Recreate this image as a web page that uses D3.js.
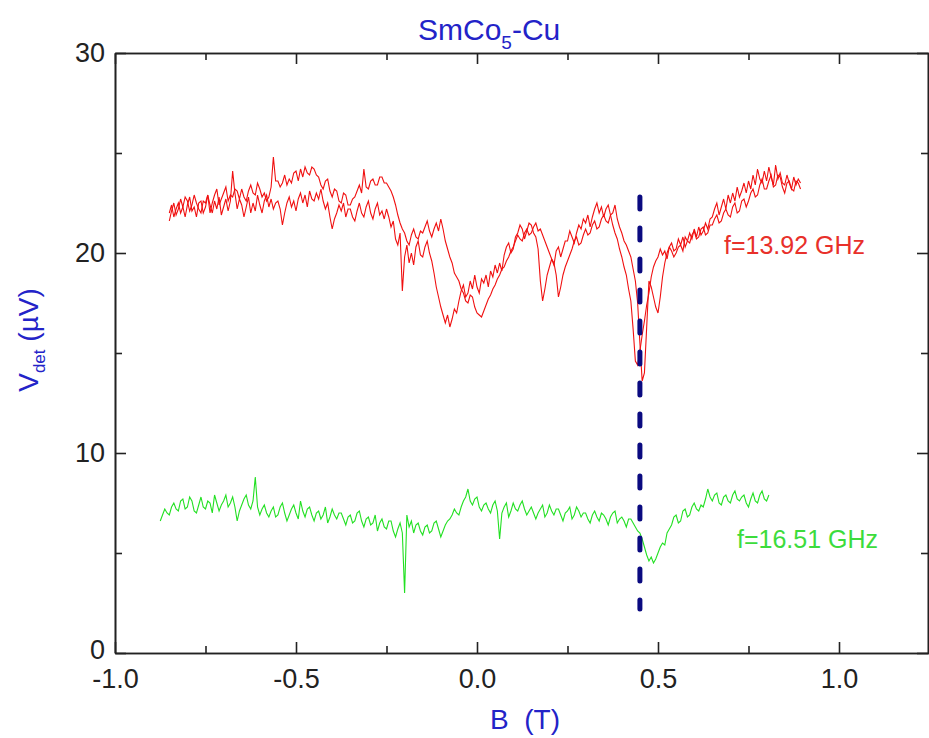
<!DOCTYPE html>
<html>
<head>
<meta charset="utf-8">
<script src="https://cdn.jsdelivr.net/npm/d3@7"></script>
<style>
  body { margin: 0; background: #fff; }
  svg text { font-family: "Liberation Sans", Arial, sans-serif; }
</style>
</head>
<body>
<svg width="929" height="738"></svg>
<script>
// field sweep sampling (T)
var bStep = 0.00625;
var redStartB = -0.85;
var greenStartB = -0.875;

// f = 13.92 GHz, two sweeps (uV), one row = 0.1 T
var redSweepA = [
  21.6, 22.1, 22.5, 21.9, 22.2, 22.7, 22.3, 21.8, 22.4, 22.8, 22.1, 22.3, 21.8, 22.5, 22.6, 22.0,
  22.3, 22.9, 22.4, 22.0, 22.6, 22.2, 22.8, 21.9, 22.3, 22.7, 22.1, 22.6, 24.1, 23.0, 22.2, 22.7,
  22.4, 21.8, 22.3, 22.8, 22.0, 22.5, 22.1, 22.9, 22.4, 22.0, 22.6, 22.9, 22.3, 22.7, 22.2, 22.5,
  22.6, 22.2, 21.4, 22.0, 22.5, 22.8, 22.3, 22.6, 22.1, 22.7, 23.0, 22.5, 22.9, 22.3, 23.1, 22.7,
  22.6, 23.0, 22.7, 23.2, 22.6, 22.2, 22.5, 21.8, 21.2, 21.7, 22.0, 22.4, 22.1, 22.5, 21.8, 22.2,
  22.2, 21.8, 21.6, 22.1, 22.5, 22.0, 21.8, 22.3, 22.6, 22.0, 21.7, 22.2, 22.5, 21.9, 22.1, 21.7,
  22.2, 21.8, 21.3, 21.6, 20.7, 20.4, 21.0, 18.1, 19.8, 20.4, 19.5, 20.0, 19.4, 20.3, 20.6, 19.9,
  19.8, 20.3, 20.6, 20.0, 19.6, 19.0, 18.3, 17.8, 17.3, 16.9, 16.5, 16.9, 16.3, 16.7, 17.2, 17.0,
  17.6, 18.1, 18.4, 17.8, 18.0, 18.6, 18.2, 18.9, 18.3, 18.0, 18.7, 18.5, 18.9, 18.3, 19.1, 18.8,
  19.4, 19.0, 19.5, 19.1, 19.9, 20.3, 20.5, 20.0, 20.2, 20.8, 21.0, 21.4, 21.2, 20.7, 21.1, 21.5,
  21.4, 21.0, 20.8, 20.2, 18.6, 17.6, 18.2, 18.9, 19.3, 19.7, 19.4, 20.1, 20.3, 19.8, 20.2, 20.6,
  20.6, 21.1, 20.8, 20.5, 21.0, 21.4, 21.2, 21.7, 21.5, 21.9, 21.3, 21.8, 22.2, 22.5, 22.0, 22.3,
  21.8, 22.2, 22.4, 21.9, 21.4, 21.0, 20.7, 20.2, 19.8, 19.3, 18.9, 18.2, 17.6, 16.2, 14.6, 14.4,
  15.1, 15.9, 16.6, 17.4, 18.0, 18.8, 19.3, 19.6, 19.8, 20.2, 19.9, 20.1, 19.7, 20.3, 20.5, 20.1,
  20.2, 20.7, 20.4, 20.8, 20.3, 20.6, 21.0, 20.7, 21.2, 20.8, 21.3, 20.9, 21.1, 21.5, 21.2, 21.7,
  21.8, 22.2, 22.5, 21.9, 22.3, 22.7, 22.2, 22.9, 22.5, 23.0, 22.6, 23.3, 22.8, 23.1, 23.5, 23.0,
  23.6, 23.2, 23.9, 23.4, 24.2, 23.7, 23.5, 24.1, 23.6, 24.3, 23.8, 23.4, 24.4, 23.7, 24.0, 23.5,
  23.4, 23.9, 23.5, 23.2, 23.8, 23.4, 23.7, 23.5
];
var redSweepB = [
  22.0, 22.4, 21.8, 22.2, 22.5, 22.0, 22.3, 22.8, 22.6, 22.1, 22.4, 22.9, 22.5, 22.2, 22.0, 22.6,
  22.5, 22.9, 22.0, 22.5, 22.9, 23.2, 22.4, 22.7, 23.0, 23.3, 22.6, 22.9, 22.8, 23.2, 23.1, 22.7,
  23.2, 22.8, 22.6, 23.1, 23.4, 23.0, 22.9, 23.5, 23.2, 22.8, 23.0, 22.6, 22.8, 23.3, 24.8, 23.6,
  23.6, 23.3, 23.5, 23.9, 23.4, 23.7, 23.5, 24.0, 24.1, 23.6, 24.2, 23.8, 24.3, 24.0, 23.9, 24.3,
  24.2, 23.9, 23.8, 23.4, 23.2, 23.6, 23.7, 23.1, 22.8, 23.2, 23.1, 22.6, 22.5, 23.0, 22.9, 22.4,
  22.4, 22.7, 22.8, 23.1, 23.4, 23.0, 24.2, 23.3, 23.2, 23.6, 23.7, 23.4, 23.4, 23.8, 23.8, 23.5,
  23.5, 23.3, 23.1, 22.8, 22.4, 21.9, 21.5, 21.2, 21.0, 20.6, 20.4, 20.9, 21.2, 20.8, 20.7, 21.1,
  21.0, 21.3, 21.6, 21.1, 20.8, 21.2, 21.5, 21.1, 21.7, 21.2, 20.6, 20.2, 19.8, 19.5, 19.0, 18.8,
  18.6, 18.2, 18.0, 17.6, 17.5, 17.9, 17.8, 17.3, 17.0, 16.9, 16.8, 17.1, 17.4, 17.7, 17.9, 18.2,
  18.4, 18.7, 18.9, 19.2, 19.3, 19.6, 19.8, 20.1, 20.3, 20.6, 20.9, 20.7, 20.6, 21.0, 21.2, 20.9,
  21.0, 21.3, 21.5, 21.1, 21.2, 20.9, 20.6, 20.3, 20.0, 19.7, 19.5, 18.9, 17.8, 18.3, 18.9, 19.3,
  19.6, 19.9, 20.2, 20.6, 20.8, 20.4, 20.5, 20.9, 21.2, 20.9, 21.0, 21.4, 21.6, 21.2, 21.3, 21.7,
  21.9, 21.6, 21.5, 21.9, 22.0, 22.4, 21.7, 21.3, 21.0, 20.6, 20.4, 20.1, 19.8, 19.2, 18.6, 17.5,
  15.5, 13.6, 14.0, 16.3, 18.6, 18.3, 17.8, 17.3, 17.0, 17.8, 18.8, 19.5, 20.0, 20.3, 20.1, 19.8,
  20.0, 20.3, 20.4, 20.1, 20.8, 20.6, 20.5, 20.9, 21.1, 20.7, 20.8, 21.2, 21.3, 20.9, 21.0, 21.4,
  21.4, 21.7, 21.9, 21.5, 21.6, 22.0, 22.2, 21.9, 21.8, 22.3, 22.5, 22.0, 22.1, 22.6, 22.7, 22.3,
  22.6, 23.0, 23.2, 22.8, 22.9, 23.4, 23.7, 23.2, 23.2, 23.6, 23.9, 23.3, 23.4, 23.9, 23.8, 23.3,
  23.0, 23.5, 23.6, 23.2, 23.1, 23.6, 23.5, 23.2
];
// f = 16.51 GHz (uV)
var greenTrace = [
  6.6, 6.9, 7.2, 7.0, 6.9, 7.3, 7.5, 7.2, 7.1, 7.6, 7.7, 7.2, 7.3, 7.8, 7.6, 7.1,
  7.0, 7.4, 7.8, 7.3, 7.2, 7.6, 7.5, 7.0, 7.9, 7.5, 7.1, 7.4, 7.6, 7.9, 7.3, 7.5,
  7.8, 7.3, 6.6, 7.1, 7.4, 7.7, 7.9, 7.4, 7.2, 7.6, 8.8, 7.3, 6.9, 7.2, 7.4, 7.0,
  6.8, 7.1, 7.3, 6.8, 6.9, 7.3, 7.5, 7.0, 6.6, 6.9, 7.2, 7.4, 7.0, 6.7, 7.6, 7.1,
  6.8, 7.2, 7.3, 6.9, 6.6, 7.0, 7.1, 6.7, 6.9, 7.3, 6.5, 6.8, 7.2, 6.9, 6.7, 7.0,
  7.0, 6.7, 6.4, 6.8, 6.9, 6.5, 6.6, 7.0, 7.1, 6.6, 6.3, 6.7, 6.8, 6.4, 6.5, 6.9,
  6.1, 6.5, 6.7, 6.3, 6.2, 6.6, 6.6, 6.1, 5.8, 6.2, 6.5, 6.0, 3.0, 6.9, 6.3, 6.6,
  6.0, 6.4, 6.5, 6.1, 5.9, 6.3, 6.4, 6.0, 6.1, 6.5, 6.6, 6.2, 5.8, 6.1, 6.4, 6.6,
  6.7, 6.9, 7.2, 7.0, 6.9, 7.3, 7.6, 7.8, 8.2, 7.6, 7.4, 7.7, 7.8, 7.3, 7.1, 7.4,
  7.5, 7.2, 7.0, 7.4, 7.6, 7.1, 5.7, 7.0, 7.3, 7.5, 6.8, 7.1, 7.5, 7.2, 7.1, 7.4,
  7.6, 7.2, 6.9, 7.1, 7.3, 7.0, 6.7, 7.0, 7.2, 7.4, 6.8, 7.0, 7.4, 7.1, 6.9, 7.2,
  7.2, 6.9, 6.6, 7.0, 7.1, 7.3, 6.7, 6.9, 7.3, 7.1, 6.8, 7.0, 7.0, 6.7, 6.5, 6.9,
  7.1, 6.8, 6.6, 7.0, 6.9, 6.7, 6.4, 6.8, 7.0, 7.1, 6.5, 6.7, 6.8, 6.6, 6.3, 6.7,
  6.7, 6.5, 6.3, 6.1, 6.0, 5.7, 5.3, 4.9, 4.6, 4.8, 4.5, 4.7, 5.0, 5.3, 5.5, 5.4,
  6.0, 6.2, 6.4, 6.8, 6.9, 6.5, 6.6, 7.1, 7.2, 6.8, 6.9, 7.3, 7.5, 7.2, 7.1, 7.4,
  7.3, 7.7, 8.2, 7.8, 7.6, 7.9, 8.0, 7.5, 7.4, 7.8, 7.9, 7.6, 7.5, 7.9, 8.1, 7.7,
  7.6, 7.8, 7.9, 7.5, 7.3, 7.7, 8.0, 7.6, 7.5, 7.9, 8.1, 7.7, 7.6, 7.9
];

var xMajorTicks = [-1.0, -0.5, 0.0, 0.5, 1.0];
var xMinorTicks = [-0.75, -0.25, 0.25, 0.75, 1.25];
var yMajorTicks = [0, 10, 20, 30];
var yMinorTicks = [5, 15, 25];

// resonance marker
var markerB = 0.45;
var markerTop = 22.8;
var markerBottom = 2.2;

var plotLeft = 115, plotRight = 928, plotTop = 53, plotBottom = 653;
var blue = '#2323c8';

var svg = d3.select('svg');
var x = d3.scaleLinear().domain([-1.0, 1.25]).range([plotLeft, plotRight + 1.5]);
var y = d3.scaleLinear().domain([0, 30]).range([plotBottom, plotTop]);

function toPoints(startB, values) {
  return values.map(function(v, i) { return [startB + i * bStep, v]; });
}

var line = d3.line()
  .x(function(d) { return x(d[0]); })
  .y(function(d) { return y(d[1]); });

// curves
svg.append('path').datum(toPoints(redStartB, redSweepA))
  .attr('d', line).attr('fill', 'none').attr('stroke', '#f01010').attr('stroke-width', 1.1);
svg.append('path').datum(toPoints(redStartB, redSweepB))
  .attr('d', line).attr('fill', 'none').attr('stroke', '#f01010').attr('stroke-width', 1.1);
svg.append('path').datum(toPoints(greenStartB, greenTrace))
  .attr('d', line).attr('fill', 'none').attr('stroke', '#22e022').attr('stroke-width', 1.1);

svg.append('line')
  .attr('x1', x(markerB)).attr('x2', x(markerB))
  .attr('y1', y(markerTop)).attr('y2', y(markerBottom))
  .attr('stroke', '#0a0a80').attr('stroke-width', 5)
  .attr('stroke-linecap', 'round')
  .attr('stroke-dasharray', '12 19');

// axes
var fmtX = function(d) { return d.toFixed(1); };

function styleAxis(g) {
  g.selectAll('path, line').attr('stroke', '#222').attr('stroke-width', 1.6);
  g.selectAll('text').attr('fill', '#222').style('font-size', '27px')
    .style('font-family', '"Liberation Sans", Arial, sans-serif');
}

svg.append('g').attr('transform', 'translate(0,' + plotBottom + ')')
  .call(d3.axisBottom(x).tickValues(xMajorTicks).tickFormat(fmtX).tickSize(-11).tickSizeOuter(0).tickPadding(16))
  .call(styleAxis);
svg.append('g').attr('transform', 'translate(0,' + plotBottom + ')')
  .call(d3.axisBottom(x).tickValues(xMinorTicks).tickFormat('').tickSize(-7).tickSizeOuter(0))
  .call(styleAxis);
svg.append('g').attr('transform', 'translate(0,' + plotTop + ')')
  .call(d3.axisTop(x).tickValues(xMajorTicks).tickFormat('').tickSize(-11).tickSizeOuter(0))
  .call(styleAxis);
svg.append('g').attr('transform', 'translate(0,' + plotTop + ')')
  .call(d3.axisTop(x).tickValues(xMinorTicks).tickFormat('').tickSize(-7).tickSizeOuter(0))
  .call(styleAxis);

var yAxisG = svg.append('g').attr('transform', 'translate(' + plotLeft + ',0)')
  .call(d3.axisLeft(y).tickValues(yMajorTicks).tickFormat(d3.format('d')).tickSize(-11).tickSizeOuter(0).tickPadding(10))
  .call(styleAxis);
// nudge the "0" label up a little so it clears "-1.0"
yAxisG.selectAll('.tick').filter(function(d) { return d === 0; }).select('text').attr('dy', '0.2em');
svg.append('g').attr('transform', 'translate(' + plotLeft + ',0)')
  .call(d3.axisLeft(y).tickValues(yMinorTicks).tickFormat('').tickSize(-7).tickSizeOuter(0))
  .call(styleAxis);
svg.append('g').attr('transform', 'translate(' + plotRight + ',0)')
  .call(d3.axisRight(y).tickValues(yMajorTicks).tickFormat('').tickSize(-11).tickSizeOuter(0))
  .call(styleAxis);
svg.append('g').attr('transform', 'translate(' + plotRight + ',0)')
  .call(d3.axisRight(y).tickValues(yMinorTicks).tickFormat('').tickSize(-7).tickSizeOuter(0))
  .call(styleAxis);

// title
var title = svg.append('text').attr('x', 418).attr('y', 40)
  .attr('fill', blue).style('font-size', '30px');
title.append('tspan').text('SmCo');
title.append('tspan').attr('dy', 9).style('font-size', '19px').text('5');
title.append('tspan').attr('dy', -9).text('-Cu');

// axis titles
svg.append('text').attr('x', 525).attr('y', 729).attr('text-anchor', 'middle')
  .attr('fill', blue).style('font-size', '28px').style('white-space', 'pre')
  .text('B  (T)');

var yTitle = svg.append('text').attr('transform', 'translate(38,340) rotate(-90)')
  .attr('text-anchor', 'middle').attr('fill', blue).style('font-size', '28px');
yTitle.append('tspan').text('V');
yTitle.append('tspan').attr('dy', 7).style('font-size', '17px').text('det');
yTitle.append('tspan').attr('dy', -7).text(' (\u00b5V)');

// curve labels
svg.append('text').attr('x', 724).attr('y', 254).attr('fill', '#e8302a')
  .style('font-size', '25px').text('f=13.92 GHz');
svg.append('text').attr('x', 737).attr('y', 548).attr('fill', '#3cdc3c')
  .style('font-size', '25px').text('f=16.51 GHz');
</script>
</body>
</html>
